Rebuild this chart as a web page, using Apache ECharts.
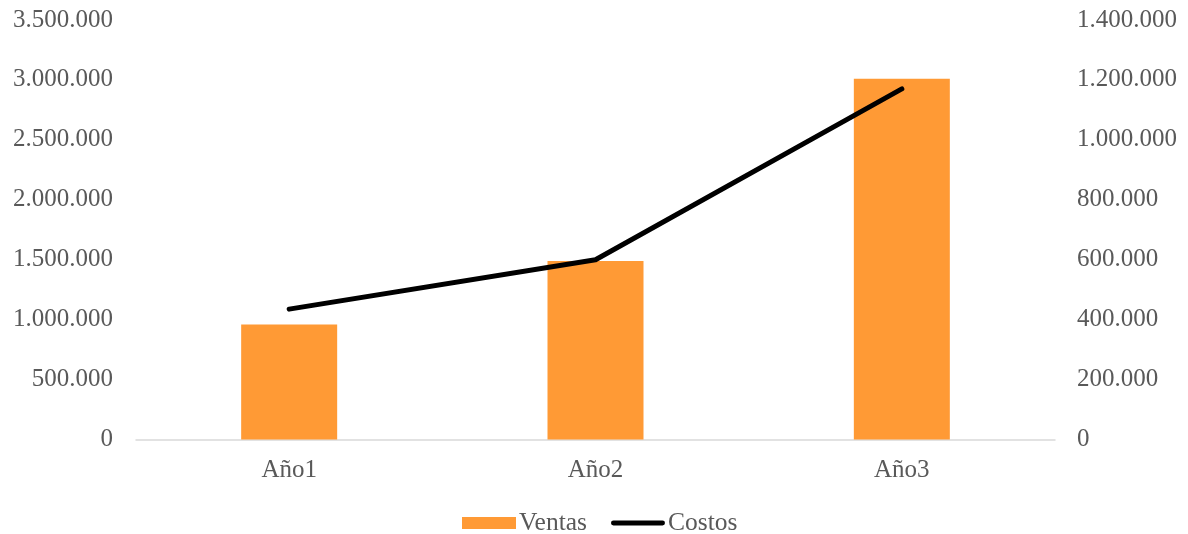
<!DOCTYPE html>
<html><head><meta charset="utf-8">
<script src="https://cdn.jsdelivr.net/npm/echarts@6/dist/echarts.min.js"></script>
<style>html,body{margin:0;padding:0;background:#fff}#c{width:1188px;height:534px}</style>
</head><body><div id="c"></div>
<script>
const categories = ['Año1', 'Año2', 'Año3'];
const ventas = [960000, 1490000, 3010000];
const costos = [435000, 600000, 1170000];

function fmt(v) { return String(Math.round(v)).replace(/\B(?=(\d{3})+(?!\d))/g, '.'); }
const FONT = 'Liberation Serif';
const TXT = '#595959';
const chart = echarts.init(document.getElementById('c'));
chart.setOption({
  animation: false,
  textStyle: { fontFamily: FONT },
  grid: { left: 136, right: 133, top: 20, bottom: 94.5, containLabel: false },
  legend: {
    top: 505, left: 457, itemGap: 24, itemWidth: 54, itemHeight: 12,
    textStyle: { fontFamily: FONT, fontSize: 25.5, color: TXT, padding: [0, 0, 0, -2] },
    data: [
      { name: 'Ventas', icon: 'rect' },
      { name: 'Costos', icon: 'path://M0,0 M55,12 M2.5,3.5 H52.5 A2.5,2.5 0 0 1 52.5,8.5 H2.5 A2.5,2.5 0 0 1 2.5,3.5 Z' }
    ]
  },
  xAxis: {
    type: 'category', data: categories,
    axisLine: { lineStyle: { color: '#d9d9d9', width: 1.5 } },
    axisTick: { show: false },
    axisLabel: { fontFamily: FONT, fontSize: 25, color: TXT, margin: 18 }
  },
  yAxis: [
    { type: 'value', min: 0, max: 3500000, interval: 500000,
      axisLine: { show: false }, axisTick: { show: false }, splitLine: { show: false },
      axisLabel: { fontFamily: FONT, fontSize: 25, color: TXT, margin: 23, formatter: fmt } },
    { type: 'value', min: 0, max: 1400000, interval: 200000, position: 'right',
      axisLine: { show: false }, axisTick: { show: false }, splitLine: { show: false },
      axisLabel: { fontFamily: FONT, fontSize: 25, color: TXT, margin: 22, formatter: fmt } }
  ],
  series: [
    { name: 'Ventas', type: 'bar', data: ventas, barWidth: 96, yAxisIndex: 0,
      itemStyle: { color: '#ff9a35' } },
    { name: 'Costos', type: 'line', data: costos, yAxisIndex: 1, showSymbol: false, symbol: 'none',
      lineStyle: { color: '#000', width: 5, cap: 'round', join: 'round' }, itemStyle: { color: '#000' } }
  ]
});
</script></body></html>
